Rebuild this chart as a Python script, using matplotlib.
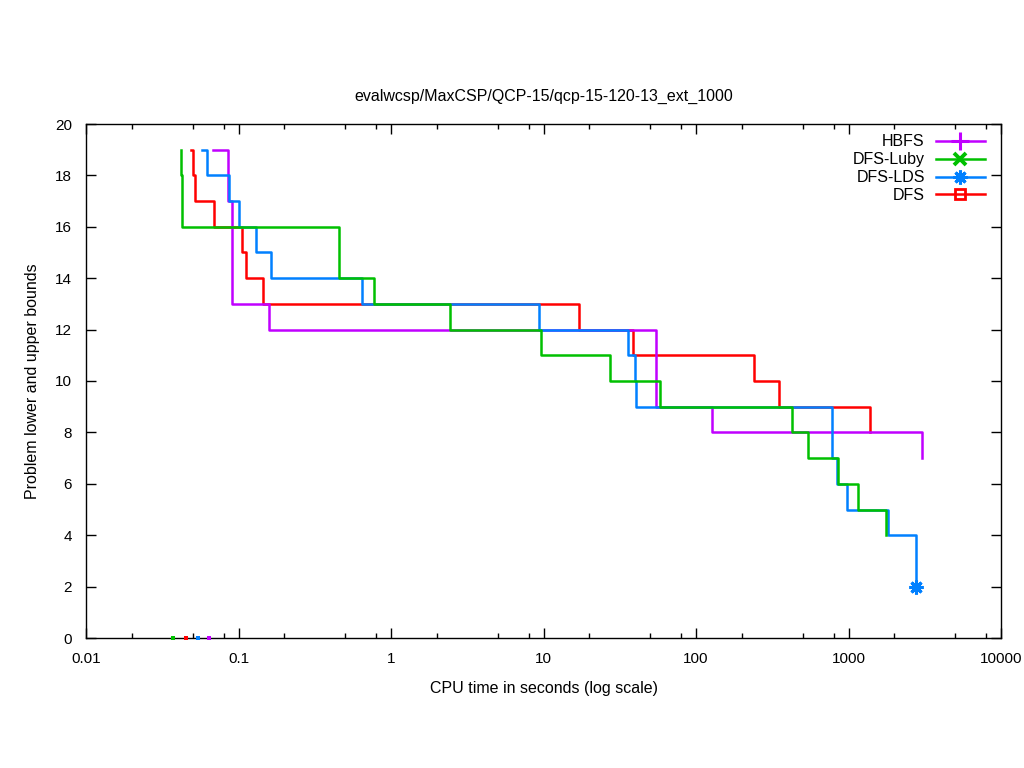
import matplotlib
matplotlib.use("Agg")
import matplotlib.pyplot as plt
from matplotlib.lines import Line2D
from matplotlib.ticker import LogLocator, NullFormatter, FixedLocator

plt.rcParams['font.family'] = ['Liberation Sans', 'DejaVu Sans']

# upper bound over time (step "post": value holds until the next time)
hbfs_t = [0.068, 0.0858, 0.0911, 0.159, 54.9, 128, 3048]
hbfs_ub = [19, 17, 13, 12, 9, 8, 7]

luby_t = [0.0421, 0.0422, 0.0428, 0.458, 0.777, 2.45, 9.67, 27.3, 58.0, 428, 545, 857, 1159, 1754]
luby_ub = [19, 18, 16, 14, 13, 12, 11, 10, 9, 8, 7, 6, 5, 4]

lds_t = [0.0579, 0.0624, 0.0867, 0.1012, 0.1308, 0.1641, 0.648, 9.39, 35.6, 39.6, 40.6, 783, 837, 982, 1807, 2759]
lds_ub = [19, 18, 17, 16, 15, 14, 13, 12, 11, 10, 9, 7, 6, 5, 4, 2]

dfs_t = [0.0490, 0.0505, 0.0521, 0.0694, 0.1059, 0.1125, 0.1454, 17.2, 38.8, 241, 352, 1390]
dfs_ub = [19, 18, 17, 16, 15, 14, 13, 12, 11, 10, 9, 8]

# lower bound points
lb_names = ['HBFS', 'DFS-Luby', 'DFS-LDS', 'DFS']
lb_t = [0.0644, 0.0374, 0.0545, 0.0455]
lb_val = [0, 0, 0, 0]
opt_t = [2759]
opt_val = [2]

purple = '#c000ff'
green = '#00c000'
blue = '#0080ff'
red = '#ff0000'

fig = plt.figure(figsize=(10.24, 7.68), dpi=100)
ax = fig.add_axes([86 / 1024, 130 / 768, 915 / 1024, 514 / 768])

lw = 1.8
ax.step(dfs_t, dfs_ub, where='post', color=red, lw=lw, zorder=2)
ax.step(hbfs_t, hbfs_ub, where='post', color=purple, lw=lw, zorder=3)
ax.step(lds_t, lds_ub, where='post', color=blue, lw=lw, zorder=4)
ax.step(luby_t, luby_ub, where='post', color=green, lw=lw, zorder=5)

lb_colors = [purple, green, blue, red]
for t, v, c in zip(lb_t, lb_val, lb_colors):
    ax.plot([t], [v], 's', color=c, ms=3, mew=0, zorder=6, clip_on=False)
ax.plot(opt_t, opt_val, marker=(8, 2, 0), color=blue, ms=10, mew=2.2, ls='none', zorder=6)

ax.set_xscale('log')
ax.set_xlim(0.01, 10000)
ax.set_ylim(0, 20)
ax.yaxis.set_major_locator(FixedLocator(range(0, 21, 2)))
ax.xaxis.set_major_locator(FixedLocator([0.01, 0.1, 1, 10, 100, 1000, 10000]))
ax.set_xticklabels(['0.01', '0.1', '1', '10', '100', '1000', '10000'])
ax.xaxis.set_minor_locator(LogLocator(base=10, subs=[2, 5, 8], numticks=20))
ax.xaxis.set_minor_formatter(NullFormatter())
ax.tick_params(which='both', direction='in', top=True, right=True, labelsize=11, pad=10, color='black')
ax.tick_params(which='major', length=7, width=1)
ax.tick_params(which='minor', length=3.5, width=1)
for s in ax.spines.values():
    s.set_linewidth(1)

ax.set_title('evalwcsp/MaxCSP/QCP-15/qcp-15-120-13_ext_1000', fontsize=11.5, pad=17)
ax.set_xlabel('CPU time in seconds (log scale)', fontsize=11.5, labelpad=11)
ax.set_ylabel('Problem lower and upper bounds', fontsize=11.5, labelpad=11)

handles = [
    Line2D([], [], color=purple, lw=lw, marker='+', ms=13, mew=2.2),
    Line2D([], [], color=green, lw=lw, marker='x', ms=9, mew=2.8),
    Line2D([], [], color=blue, lw=lw, marker=(8, 2, 0), ms=10, mew=2.2),
    Line2D([], [], color=red, lw=lw, marker='s', ms=7.5, mew=2, mfc='none'),
]
ax.legend(handles, lb_names, loc='upper right', bbox_to_anchor=(0.9895, 0.9922),
          markerfirst=False, frameon=False, fontsize=11.5, numpoints=1,
          handlelength=3.07, labelspacing=0.18, handletextpad=0.7, borderaxespad=0)

fig.savefig('out.png', dpi=100)
